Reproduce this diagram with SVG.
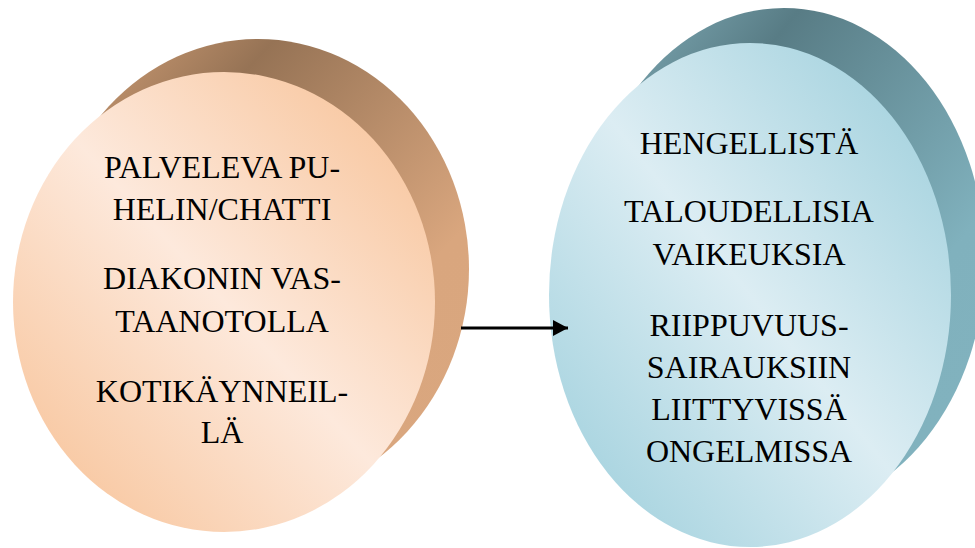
<svg xmlns="http://www.w3.org/2000/svg" width="975" height="548" viewBox="0 0 975 548">
<defs>
<linearGradient id="peachFront" x1="0" y1="1" x2="1" y2="0">
<stop offset="0.1" stop-color="#f8c7a0"/>
<stop offset="0.5" stop-color="#fde9dc"/>
<stop offset="0.9" stop-color="#f8c7a0"/>
</linearGradient>
<linearGradient id="peachBack" x1="0" y1="0" x2="1" y2="1">
<stop offset="0.05" stop-color="#cf9d75"/>
<stop offset="0.27" stop-color="#967355"/>
<stop offset="0.7" stop-color="#d9a67e"/>
<stop offset="1" stop-color="#daa77f"/>
</linearGradient>
<linearGradient id="blueFront" x1="0" y1="1" x2="1" y2="0">
<stop offset="0.1" stop-color="#a6d3df"/>
<stop offset="0.5" stop-color="#dcedf3"/>
<stop offset="0.9" stop-color="#a6d3df"/>
</linearGradient>
<linearGradient id="blueBack" x1="0" y1="0" x2="1" y2="1">
<stop offset="0.05" stop-color="#80abb6"/>
<stop offset="0.27" stop-color="#587c85"/>
<stop offset="0.7" stop-color="#80b1bd"/>
<stop offset="1" stop-color="#82b3bf"/>
</linearGradient>
<marker id="arrow" viewBox="0 0 15 16" refX="15" refY="8" markerWidth="15" markerHeight="16" markerUnits="userSpaceOnUse" orient="auto">
<path d="M0,0 L15,8 L0,16 Z" fill="#000"/>
</marker>
</defs>
<style>
text { font-family: "Liberation Serif", Tinos, "Times New Roman", "DejaVu Serif", serif; font-size: 32px; fill: #000; text-anchor: middle; }
.conn { stroke: #000; stroke-width: 3; fill: none; }
</style>
<rect width="975" height="548" fill="#fff"/>
<g id="node-left">
<ellipse cx="258" cy="269" rx="211" ry="230" fill="url(#peachBack)"/>
<ellipse cx="224" cy="302" rx="211" ry="230" fill="url(#peachFront)"/>
<text x="222" y="178">PALVELEVA PU-</text>
<text x="222" y="220">HELIN/CHATTI</text>
<text x="222" y="289">DIAKONIN VAS-</text>
<text x="222" y="332">TAANOTOLLA</text>
<text x="222" y="402">KOTIKÄYNNEIL-</text>
<text x="222" y="443">LÄ</text>
</g>
<g id="node-right">
<ellipse cx="784" cy="260" rx="201" ry="252" fill="url(#blueBack)"/>
<ellipse cx="750" cy="295" rx="201" ry="252" fill="url(#blueFront)"/>
<text x="749" y="154">HENGELLISTÄ</text>
<text x="749" y="222">TALOUDELLISIA</text>
<text x="749" y="265">VAIKEUKSIA</text>
<text x="749" y="336">RIIPPUVUUS-</text>
<text x="749" y="378">SAIRAUKSIIN</text>
<text x="749" y="420">LIITTYVISSÄ</text>
<text x="749" y="462">ONGELMISSA</text>
</g>
<g id="connectors">
<line class="conn" x1="461" y1="328" x2="568" y2="328" marker-end="url(#arrow)"/>
</g>
</svg>
